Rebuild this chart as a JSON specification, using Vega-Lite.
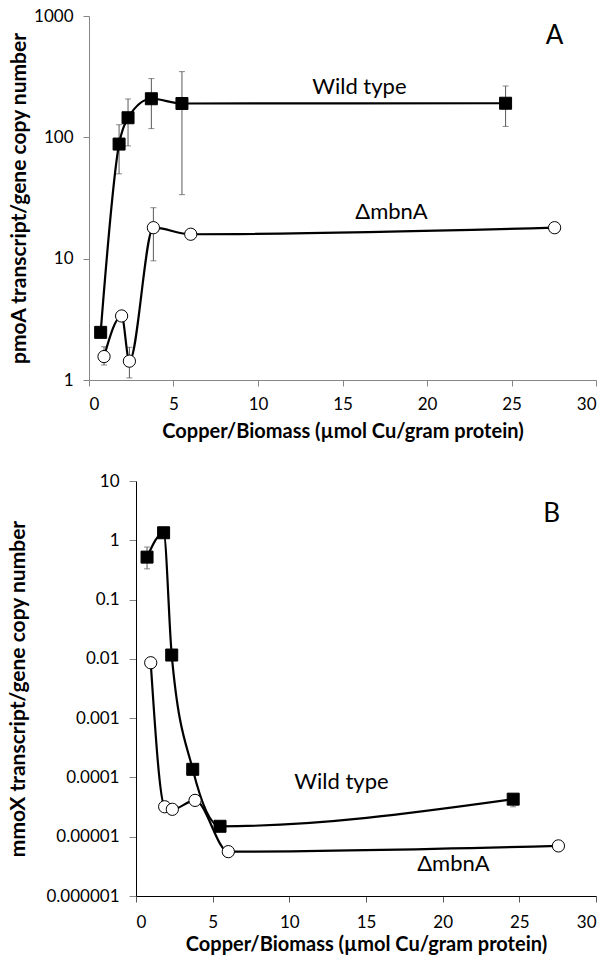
{
  "$schema": "https://vega.github.io/schema/vega-lite/v6.json",
  "background": "white",
  "padding": {"left": 7, "top": 7, "right": 2, "bottom": 2},
  "spacing": 31,
  "config": {
    "view": {"stroke": null},
    "font": "Lato",
    "axis": {"grid": false, "labelFont": "Lato", "titleFont": "Lato", "labelColor": "#000", "titleColor": "#000", "labelFontSize": 17, "titleFontSize": 20, "titleFontWeight": "bold"},
    "axisY": {"titleFontSize": 21}
  },
  "datasets": {
    "a": [
      {"series": "Wild type", "x": 0.69, "y": 2.47, "lo": null, "hi": null},
      {"series": "Wild type", "x": 1.78, "y": 88, "lo": 50, "hi": 127},
      {"series": "Wild type", "x": 2.31, "y": 145, "lo": 85, "hi": 207},
      {"series": "Wild type", "x": 3.69, "y": 208, "lo": 118, "hi": 305},
      {"series": "Wild type", "x": 5.5, "y": 190, "lo": 33.7, "hi": 348},
      {"series": "Wild type", "x": 24.65, "y": 191, "lo": 123, "hi": 265},
      {"series": "mbnA", "x": 0.89, "y": 1.56, "lo": 1.33, "hi": 1.88},
      {"series": "mbnA", "x": 1.93, "y": 3.37, "lo": null, "hi": null},
      {"series": "mbnA", "x": 2.39, "y": 1.43, "lo": 1.04, "hi": 1.86},
      {"series": "mbnA", "x": 3.81, "y": 18.0, "lo": 9.6, "hi": 26.3},
      {"series": "mbnA", "x": 6.02, "y": 15.9, "lo": null, "hi": null},
      {"series": "mbnA", "x": 27.55, "y": 18.0, "lo": null, "hi": null}
    ],
    "b": [
      {"series": "Wild type", "x": 0.72, "y": 0.52, "lo": 0.33, "hi": 0.77},
      {"series": "Wild type", "x": 1.8, "y": 1.34, "lo": null, "hi": null},
      {"series": "Wild type", "x": 2.33, "y": 0.0116, "lo": null, "hi": null},
      {"series": "Wild type", "x": 3.7, "y": 0.000137, "lo": null, "hi": null},
      {"series": "Wild type", "x": 5.48, "y": 0.000015, "lo": null, "hi": null},
      {"series": "Wild type", "x": 24.6, "y": 0.000043, "lo": 0.000032, "hi": 0.00005},
      {"series": "mbnA", "x": 0.96, "y": 0.0086, "lo": null, "hi": null},
      {"series": "mbnA", "x": 1.87, "y": 0.000032, "lo": null, "hi": null},
      {"series": "mbnA", "x": 2.37, "y": 0.000029, "lo": null, "hi": null},
      {"series": "mbnA", "x": 3.85, "y": 0.000041, "lo": null, "hi": null},
      {"series": "mbnA", "x": 6.02, "y": 0.0000056, "lo": null, "hi": null},
      {"series": "mbnA", "x": 27.55, "y": 0.000007, "lo": null, "hi": null}
    ],
    "alabels": [
      {"label": "Wild type", "x": 16.0, "y": 260, "style": "normal", "size": 22},
      {"label": "ΔmbnA", "x": 17.9, "y": 24.3, "style": "italic", "size": 22},
      {"label": "A", "x": 27.55, "y": 690, "style": "normal", "size": 26}
    ],
    "blabels": [
      {"label": "Wild type", "x": 13.4, "y": 0.000084, "style": "normal", "size": 22},
      {"label": "ΔmbnA", "x": 20.7, "y": 0.0000035, "style": "italic", "size": 22},
      {"label": "B", "x": 27.1, "y": 2.8, "style": "normal", "size": 26}
    ]
  },
  "vconcat": [
    {
      "width": 460,
      "height": 364,
      "layer": [
        {
          "data": {"name": "a"},
          "transform": [{"filter": "datum.lo != null"}],
          "mark": {"type": "rule", "color": "#595959", "strokeWidth": 1},
          "encoding": {
            "x": {"field": "x", "type": "quantitative"},
            "y": {"field": "lo", "type": "quantitative"},
            "y2": {"field": "hi"}
          }
        },
        {
          "data": {"name": "a"},
          "transform": [{"filter": "datum.lo != null"}, {"fold": ["lo", "hi"], "as": ["end", "val"]}],
          "mark": {"type": "tick", "orient": "horizontal", "color": "#595959", "size": 6, "thickness": 1},
          "encoding": {
            "x": {"field": "x", "type": "quantitative"},
            "y": {"field": "val", "type": "quantitative"}
          }
        },
        {
          "data": {"name": "a"},
          "mark": {"type": "line", "interpolate": "monotone", "color": "#000", "strokeWidth": 2.2},
          "encoding": {
            "x": {"field": "x", "type": "quantitative", "scale": {"domain": [0, 30], "nice": false, "range": [-47, 460]},
              "axis": {"title": "Copper/Biomass (µmol Cu/gram protein)", "values": [0, 5, 10, 15, 20, 25, 30],
                "domainColor": "#868686", "tickColor": "#868686", "tickSize": 6, "labelPadding": 10, "titlePadding": 9}},
            "y": {"field": "y", "type": "quantitative", "scale": {"type": "log", "domain": [1, 1000], "nice": false},
              "axis": {"title": "pmoA transcript/gene copy number", "values": [1, 10, 100, 1000], "format": "~f", "offset": 47,
                "domainColor": "#868686", "tickColor": "#868686", "tickSize": 6, "labelPadding": 10, "titlePadding": 4}},
            "detail": {"field": "series"}
          }
        },
        {
          "data": {"name": "a"},
          "mark": {"type": "point", "filled": true, "opacity": 1, "strokeWidth": 1, "stroke": "#000"},
          "encoding": {
            "x": {"field": "x", "type": "quantitative"},
            "y": {"field": "y", "type": "quantitative"},
            "shape": {"field": "series", "type": "nominal", "scale": {"domain": ["Wild type", "mbnA"], "range": ["square", "circle"]}, "legend": null},
            "fill": {"field": "series", "type": "nominal", "scale": {"domain": ["Wild type", "mbnA"], "range": ["#000", "#fff"]}, "legend": null},
            "size": {"field": "series", "type": "nominal", "scale": {"domain": ["Wild type", "mbnA"], "range": [144, 150]}, "legend": null}
          }
        },
        {
          "data": {"name": "alabels"},
          "mark": {"type": "text", "font": "Lato", "color": "#000"},
          "encoding": {
            "x": {"field": "x", "type": "quantitative"},
            "y": {"field": "y", "type": "quantitative"},
            "text": {"field": "label"},
            "fontStyle": {"field": "style", "type": "nominal", "scale": null},
            "size": {"field": "size", "type": "quantitative", "scale": null}
          }
        }
      ],
      "resolve": {"scale": {"shape": "independent", "fill": "independent", "size": "independent"}}
    },
    {
      "width": 460,
      "height": 415,
      "layer": [
        {
          "data": {"name": "b"},
          "transform": [{"filter": "datum.lo != null"}],
          "mark": {"type": "rule", "color": "#595959", "strokeWidth": 1},
          "encoding": {
            "x": {"field": "x", "type": "quantitative"},
            "y": {"field": "lo", "type": "quantitative"},
            "y2": {"field": "hi"}
          }
        },
        {
          "data": {"name": "b"},
          "transform": [{"filter": "datum.lo != null"}, {"fold": ["lo", "hi"], "as": ["end", "val"]}],
          "mark": {"type": "tick", "orient": "horizontal", "color": "#595959", "size": 6, "thickness": 1},
          "encoding": {
            "x": {"field": "x", "type": "quantitative"},
            "y": {"field": "val", "type": "quantitative"}
          }
        },
        {
          "data": {"name": "b"},
          "mark": {"type": "line", "interpolate": "monotone", "color": "#000", "strokeWidth": 2.2},
          "encoding": {
            "x": {"field": "x", "type": "quantitative", "scale": {"domain": [0, 30], "nice": false},
              "axis": {"title": "Copper/Biomass (µmol Cu/gram protein)", "values": [0, 5, 10, 15, 20, 25, 30],
                "domainColor": "#000", "tickColor": "#595959", "tickSize": 6, "labelPadding": 12, "titlePadding": 4}},
            "y": {"field": "y", "type": "quantitative", "scale": {"type": "log", "domain": [0.000001, 10], "nice": false},
              "axis": {"title": "mmoX transcript/gene copy number", "values": [0.000001, 0.00001, 0.0001, 0.001, 0.01, 0.1, 1, 10], "format": "~f",
                "domainColor": "#000", "tickColor": "#868686", "tickSize": 7, "labelPadding": 10, "titlePadding": 17}},
            "detail": {"field": "series"}
          }
        },
        {
          "data": {"name": "b"},
          "mark": {"type": "point", "filled": true, "opacity": 1, "strokeWidth": 1, "stroke": "#000"},
          "encoding": {
            "x": {"field": "x", "type": "quantitative"},
            "y": {"field": "y", "type": "quantitative"},
            "shape": {"field": "series", "type": "nominal", "scale": {"domain": ["Wild type", "mbnA"], "range": ["square", "circle"]}, "legend": null},
            "fill": {"field": "series", "type": "nominal", "scale": {"domain": ["Wild type", "mbnA"], "range": ["#000", "#fff"]}, "legend": null},
            "size": {"field": "series", "type": "nominal", "scale": {"domain": ["Wild type", "mbnA"], "range": [144, 150]}, "legend": null}
          }
        },
        {
          "data": {"name": "blabels"},
          "mark": {"type": "text", "font": "Lato", "color": "#000"},
          "encoding": {
            "x": {"field": "x", "type": "quantitative"},
            "y": {"field": "y", "type": "quantitative"},
            "text": {"field": "label"},
            "fontStyle": {"field": "style", "type": "nominal", "scale": null},
            "size": {"field": "size", "type": "quantitative", "scale": null}
          }
        }
      ],
      "resolve": {"scale": {"shape": "independent", "fill": "independent", "size": "independent"}}
    }
  ]
}
